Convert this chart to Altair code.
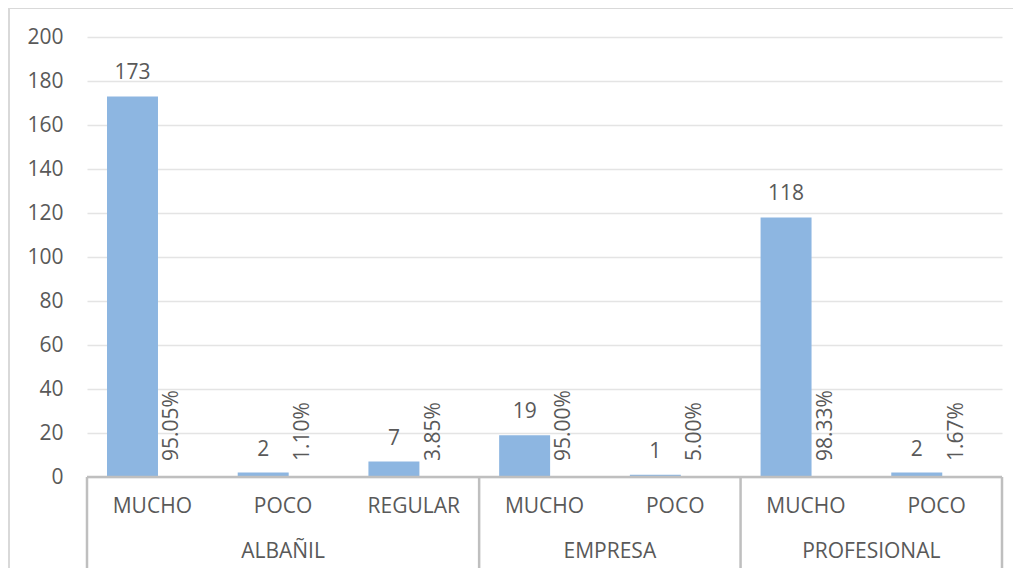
import altair as alt
import pandas as pd

groups = ["ALBAÑIL", "ALBAÑIL", "ALBAÑIL", "EMPRESA", "EMPRESA", "PROFESIONAL", "PROFESIONAL"]
levels = ["MUCHO", "POCO", "REGULAR", "MUCHO", "POCO", "MUCHO", "POCO"]
counts = [173, 2, 7, 19, 1, 118, 2]
percents = ["95.05%", "1.10%", "3.85%", "95.00%", "5.00%", "98.33%", "1.67%"]
y_ticks = [0, 20, 40, 60, 80, 100, 120, 140, 160, 180, 200]

FONT = "Open Sans"
FS = 21
TXT = "#595959"
BAR = "#8DB6E1"
LINE = "#BFBFBF"
FRAME = "#D9D9D9"

n = len(levels)
df = pd.DataFrame({
    "idx": list(range(n)),
    "group": groups,
    "level": levels,
    "count": counts,
    "pct": percents,
})

# group spans
grp_rows = []
start = 0
for i in range(1, n + 1):
    if i == n or groups[i] != groups[start]:
        grp_rows.append({"group": groups[start], "start": start, "end": i, "mid": (start + i) / 2})
        start = i
gdf = pd.DataFrame(grp_rows)
bounds = pd.DataFrame({"b": sorted(set([0] + list(gdf["end"])))})

W, H = 915, 440
xscale = alt.Scale(domain=[0, n], nice=False, zero=False)
yscale = alt.Scale(domain=[0, 200], nice=False)

base = alt.Chart(df)

bars = base.transform_calculate(
    x0="datum.idx + 0.153", x1="datum.idx + 0.543"
).mark_bar(color=BAR).encode(
    x=alt.X("x0:Q", scale=xscale, axis=None),
    x2="x1:Q",
    y=alt.Y("count:Q", scale=yscale,
            axis=alt.Axis(values=y_ticks, title=None, grid=True, gridColor="#E4E4E4",
                          gridWidth=1.5, domain=False, ticks=False, labelPadding=24,
                          labelFontSize=FS, labelFont=FONT, labelColor=TXT)),
    y2=alt.datum(0),
)

count_txt = base.transform_calculate(xc="datum.idx + 0.348").mark_text(
    font=FONT, fontSize=FS, color=TXT, baseline="alphabetic", dy=-17
).encode(
    x=alt.X("xc:Q", scale=xscale, axis=None),
    y=alt.Y("count:Q", scale=yscale),
    text="count:Q",
)

pct_txt = base.transform_calculate(xp="datum.idx + 0.652").mark_text(
    font=FONT, fontSize=FS, color=TXT, angle=270, align="left", baseline="middle", dx=16
).encode(
    x=alt.X("xp:Q", scale=xscale, axis=None),
    y=alt.datum(0, scale=yscale),
    text="pct:N",
)

lvl_txt = base.transform_calculate(xm="datum.idx + 0.5").mark_text(
    font=FONT, fontSize=FS, color=TXT, baseline="middle"
).encode(
    x=alt.X("xm:Q", scale=xscale, axis=None),
    y=alt.value(470),
    text="level:N",
)

grp_txt = alt.Chart(gdf).mark_text(
    font=FONT, fontSize=FS, color=TXT, baseline="middle"
).encode(
    x=alt.X("mid:Q", scale=xscale, axis=None),
    y=alt.value(515),
    text="group:N",
)

seps = alt.Chart(bounds).mark_rule(color=LINE, strokeWidth=2.5).encode(
    x=alt.X("b:Q", scale=xscale, axis=None),
    y=alt.value(440),
    y2=alt.value(533),
)

axis_line = alt.Chart(pd.DataFrame({"a": [0], "b": [n]})).mark_rule(
    color=LINE, strokeWidth=2.5
).encode(
    x=alt.X("a:Q", scale=xscale, axis=None),
    x2="b:Q",
    y=alt.value(440),
)

frame_top = alt.Chart(pd.DataFrame({"k": [0]})).mark_rule(
    color=FRAME, strokeWidth=2
).encode(x=alt.value(-78), x2=alt.value(960), y=alt.value(-29))

frame_left = alt.Chart(pd.DataFrame({"k": [0]})).mark_rule(
    color=FRAME, strokeWidth=2
).encode(x=alt.value(-78), y=alt.value(-29), y2=alt.value(600))

chart = alt.layer(
    frame_top, frame_left, bars, count_txt, pct_txt, axis_line, seps, lvl_txt, grp_txt
).properties(
    width=W, height=H,
    background="white",
    autosize=alt.AutoSizeParams(type="none"),
    padding={"left": 79, "top": 29, "right": 11, "bottom": 91},
).configure_view(stroke="transparent", strokeWidth=0)

chart.save("out.html", embed_options={"renderer": "svg", "actions": False})
